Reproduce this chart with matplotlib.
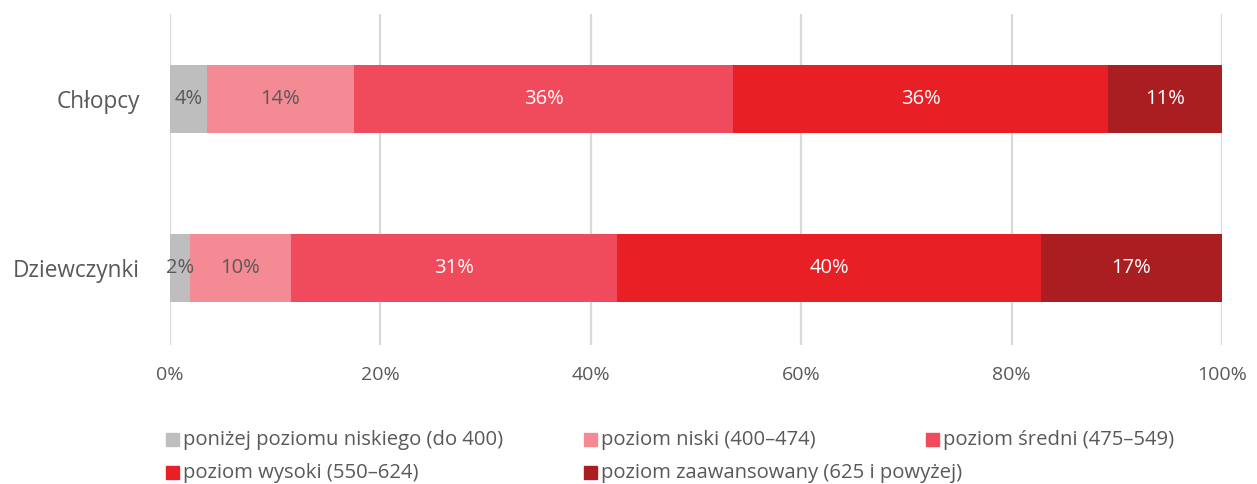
import numpy as np
import matplotlib
matplotlib.use("Agg")
import matplotlib.pyplot as plt
from matplotlib.patches import Rectangle

plt.rcParams["font.family"] = ["Open Sans", "DejaVu Sans"]

groups = ["Dziewczynki", "Chłopcy"]
levels = [
    "poniżej poziomu niskiego (do 400)",
    "poziom niski (400–474)",
    "poziom średni (475–549)",
    "poziom wysoki (550–624)",
    "poziom zaawansowany (625 i powyżej)",
]
# share of students per level (Dziewczynki, Chłopcy)
below_low = [1.9, 3.5]
low = [9.6, 14.0]
medium = [31.0, 36.0]
high = [40.3, 35.7]
advanced = [17.2, 10.8]
series = [below_low, low, medium, high, advanced]

colors = ["#BEBEBE", "#F48A94", "#F04B5C", "#E91F26", "#AA1E22"]
label_colors = ["#595959", "#595959", "white", "white", "white"]
TEXT = "#595959"

fig = plt.figure(figsize=(12.57, 4.84), dpi=100)
ax = fig.add_axes([170 / 1257, 139 / 484, 1052 / 1257, 331 / 484])

y = np.arange(len(groups))
left = np.zeros(len(groups))
for vals, col, lc in zip(series, colors, label_colors):
    vals = np.array(vals)
    ax.barh(y, vals, left=left, height=0.4, color=col, zorder=2)
    for yi, (l, v) in enumerate(zip(left, vals)):
        ax.text(l + v / 2, yi, f"{round(v):.0f}%", ha="center", va="center",
                color=lc, fontsize=14.5, zorder=3)
    left += vals

ax.set_xlim(0, 100)
ax.set_ylim(-0.456, 1.503)
ax.set_xticks(np.arange(0, 101, 20))
ax.set_xticklabels([f"{t}%" for t in range(0, 101, 20)])
ax.set_yticks(y)
ax.set_yticklabels(groups)
ax.tick_params(axis="x", length=0, pad=15, labelsize=14, labelcolor=TEXT)
ax.tick_params(axis="y", length=0, pad=21.5, labelsize=16.3, labelcolor=TEXT)
ax.grid(axis="x", color="#D9D9D9", lw=1.6, zorder=0)
for s in ax.spines.values():
    s.set_visible(False)

# legend laid out in rows like the original
leg_pos = [(166, 440), (584, 440), (926, 440), (166, 473), (584, 473)]
for (px, py), name, col in zip(leg_pos, levels, colors):
    fig.add_artist(Rectangle((px / 1257, (484 - py - 6) / 484), 13 / 1257, 13 / 484,
                             transform=fig.transFigure, color=col))
    fig.text((px + 17) / 1257, (484 - py) / 484, name, ha="left", va="center",
             fontsize=14.6, color=TEXT)

fig.savefig("out.png", dpi=100)
